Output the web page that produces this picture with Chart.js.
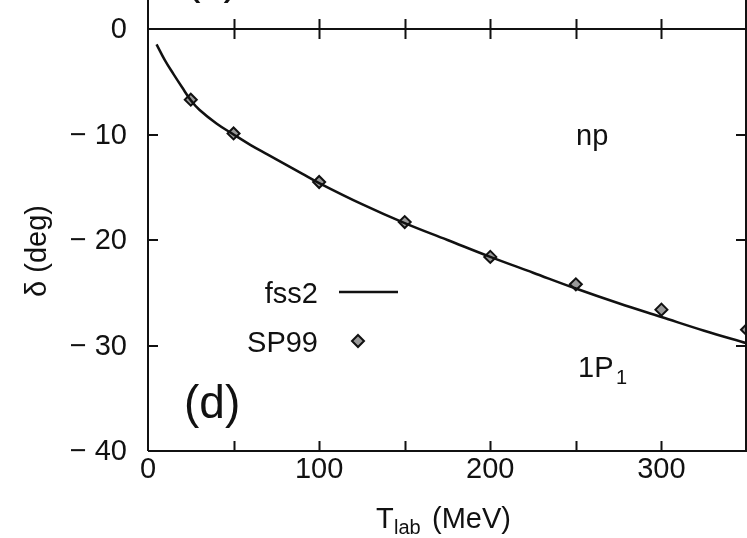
<!DOCTYPE html>
<html>
<head>
<meta charset="utf-8">
<script src="https://cdn.jsdelivr.net/npm/chart.js@4.4.1/dist/chart.umd.min.js"></script>
<style>
  html, body { margin: 0; padding: 0; background: #fff; }
  #wrap { width: 747px; height: 538px; }
</style>
</head>
<body>
<div id="wrap"><canvas id="phase" width="747" height="538"></canvas></div>
<script>
// SP99 phase-shift analysis, 1P1 np channel
const sp99Energy = [25, 50, 100, 150, 200, 250, 300, 350];
const sp99Delta = [-6.7, -9.9, -14.5, -18.3, -21.6, -24.2, -26.6, -28.5];

// fss2 model prediction
const fss2Energy = [5, 10, 15, 20, 25, 30, 40, 50, 60, 70, 80, 90, 100, 125, 150, 175, 200, 225, 250, 275, 300, 325, 350];
const fss2Delta = [-1.45, -3.0, -4.3, -5.55, -6.75, -7.65, -8.95, -10.0, -11.0, -11.9, -12.8, -13.7, -14.6, -16.6, -18.4, -20.0, -21.6, -23.1, -24.6, -26.0, -27.3, -28.6, -29.8];

const xLabels = [0, 100, 200, 300];
const xTickMarks = [50, 100, 150, 200, 250, 300];
const yLabels = [0, -10, -20, -30, -40];
const yTickMarks = [-10, -20, -30];

const FONT = '"Liberation Sans", Arial, Helvetica, sans-serif';

function pairs(xs, ys) {
  return xs.map((x, i) => ({ x: x, y: ys[i] }));
}

function yLabel(v) {
  return v === 0 ? '0' : '\u2212 ' + Math.abs(v);
}

function diamond(ctx, x, y, r) {
  ctx.beginPath();
  ctx.moveTo(x, y - r);
  ctx.lineTo(x + r, y);
  ctx.lineTo(x, y + r);
  ctx.lineTo(x - r, y);
  ctx.closePath();
  ctx.fillStyle = '#999';
  ctx.fill();
  ctx.lineWidth = 2;
  ctx.strokeStyle = '#111';
  ctx.stroke();
}

// frame, inward ticks, labels and annotations in gnuplot style
const framePlugin = {
  id: 'frame',
  afterDraw(chart) {
    const ctx = chart.ctx;
    const a = chart.chartArea;
    const xs = chart.scales.x;
    const ys = chart.scales.y;
    ctx.save();
    ctx.strokeStyle = '#111';
    ctx.lineWidth = 2;
    ctx.lineCap = 'butt';

    // box; side lines run up into the panel above
    ctx.beginPath();
    ctx.moveTo(a.left, 0); ctx.lineTo(a.left, a.bottom);
    ctx.moveTo(a.right - 1, 0); ctx.lineTo(a.right - 1, a.bottom);
    ctx.moveTo(a.left, a.top); ctx.lineTo(chart.width, a.top);
    ctx.moveTo(a.left, a.bottom); ctx.lineTo(chart.width, a.bottom);
    ctx.stroke();

    ctx.beginPath();
    xTickMarks.forEach(v => {
      const px = Math.round(xs.getPixelForValue(v)) + 0.5;
      ctx.moveTo(px, a.top - 10); ctx.lineTo(px, a.top + 10);
      ctx.moveTo(px, a.bottom - 10); ctx.lineTo(px, a.bottom);
    });
    yTickMarks.forEach(v => {
      const py = Math.round(ys.getPixelForValue(v));
      ctx.moveTo(a.left, py); ctx.lineTo(a.left + 10, py);
      ctx.moveTo(a.right - 11, py); ctx.lineTo(a.right - 1, py);
    });
    ctx.stroke();

    ctx.fillStyle = '#111';
    ctx.font = '29px ' + FONT;
    ctx.textBaseline = 'middle';
    ctx.textAlign = 'right';
    yLabels.forEach(v => {
      ctx.fillText(yLabel(v), 127, ys.getPixelForValue(v) + 1);
    });
    ctx.textAlign = 'center';
    xLabels.forEach(v => {
      ctx.fillText(String(v), xs.getPixelForValue(v), 470);
    });

    // axis titles
    ctx.textBaseline = 'alphabetic';
    ctx.textAlign = 'left';
    ctx.fillText('T', 376, 528);
    ctx.font = '20px ' + FONT;
    ctx.fillText('lab', 394, 534);
    ctx.font = '29px ' + FONT;
    ctx.fillText('(MeV)', 432, 528);

    ctx.save();
    ctx.translate(46, 251);
    ctx.rotate(-Math.PI / 2);
    ctx.textAlign = 'center';
    ctx.fillText('\u03b4 (deg)', 0, 0);
    ctx.restore();

    // legend
    ctx.textAlign = 'right';
    ctx.fillText('fss2', 318, 303);
    ctx.fillText('SP99', 318, 352);
    ctx.beginPath();
    ctx.lineWidth = 2.5;
    ctx.moveTo(339, 292); ctx.lineTo(398, 292);
    ctx.stroke();
    diamond(ctx, 358, 341, 6);

    // annotations
    ctx.fillStyle = '#111';
    ctx.textAlign = 'left';
    ctx.fillText('np', 576, 145);
    ctx.fillText('1P', 578, 377);
    ctx.font = '20px ' + FONT;
    ctx.fillText('1', 616, 384);
    ctx.font = '46px ' + FONT;
    ctx.fillText('(d)', 184, 418);
    ctx.textAlign = 'center';
    ctx.fillText('(c)', 212, -7);
    ctx.restore();
  }
};

new Chart(document.getElementById('phase'), {
  type: 'scatter',
  data: {
    datasets: [
      {
        label: 'fss2',
        data: pairs(fss2Energy, fss2Delta),
        showLine: true,
        borderColor: '#111',
        borderWidth: 2.5,
        pointRadius: 0,
        tension: 0.4,
        fill: false
      },
      {
        label: 'SP99',
        data: pairs(sp99Energy, sp99Delta),
        showLine: false,
        pointStyle: 'rectRot',
        pointRadius: 6,
        pointBorderWidth: 2,
        pointBorderColor: '#111',
        pointBackgroundColor: '#999'
      }
    ]
  },
  options: {
    responsive: false,
    animation: false,
    devicePixelRatio: 1,
    layout: { autoPadding: false, padding: { left: 148, right: 0, top: 29, bottom: 87 } },
    plugins: {
      legend: { display: false },
      tooltip: { enabled: false }
    },
    scales: {
      x: { type: 'linear', min: 0, max: 350, display: false },
      y: { type: 'linear', min: -40, max: 0, display: false }
    }
  },
  plugins: [framePlugin]
});
</script>
</body>
</html>
